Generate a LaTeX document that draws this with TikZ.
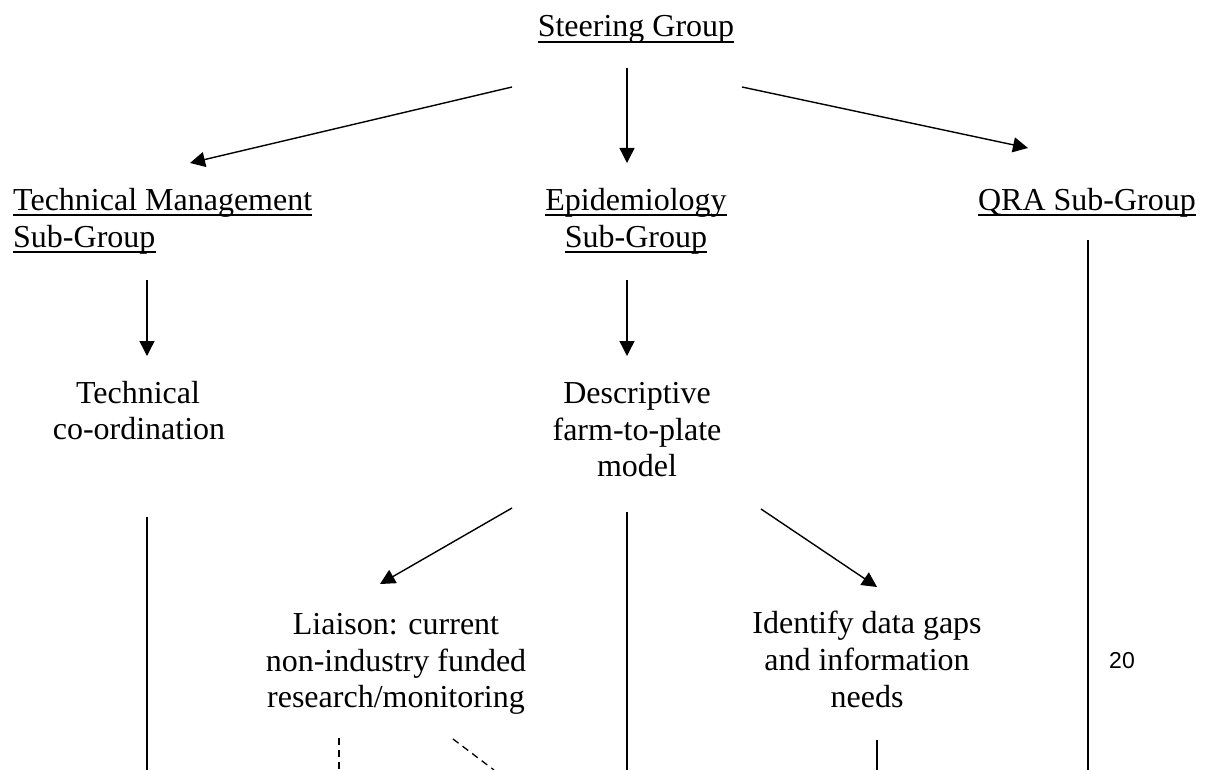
\documentclass[tikz,border=0pt]{standalone}
\usepackage{fontspec}
\setmainfont{Liberation Serif}
\newfontfamily\arialfont{Liberation Sans}
\usetikzlibrary{arrows.meta}
\newcommand\ulnode[1]{\draw[line width=1.3pt] ([yshift=-5pt]#1.base west) -- ([yshift=-5pt]#1.base east);}
\begin{document}
\begin{tikzpicture}[x=1pt,y=-1pt,
  lbl/.style={inner sep=0pt, anchor=base, font=\fontsize{32}{37}\selectfont},
  lblw/.style={lbl, anchor=base west},
  arr/.style={line width=1.4pt, -{Triangle[length=15pt,width=15pt]}},
  ln/.style={line width=1.4pt},
  dsh/.style={line width=1.3pt, dash pattern=on 7pt off 5pt}]
\useasboundingbox (0,0) rectangle (1206,770);

% titles
\node[lbl] (sg) at (636,37) {Steering Group};
\node[lblw] (tm1) at (13,210) {Technical Management};
\node[lblw] (tm2) at (13,247) {Sub-Group};
\node[lbl] (ep1) at (636,210) {Epidemiology};
\node[lbl] (ep2) at (636,247) {Sub-Group};
\node[lbl] (qra) at (1087,210) {QRA Sub-Group};
\ulnode{sg}\ulnode{tm1}\ulnode{tm2}\ulnode{ep1}\ulnode{ep2}\ulnode{qra}

% second level
\node[lbl] (tc1) at (138,403) {Technical};
\node[lbl] (tc2) at (139,439) {co-ordination};
\node[lbl] (de1) at (637,403) {Descriptive};
\node[lbl] (de2) at (637,440) {farm-to-plate};
\node[lbl] (de3) at (637,476) {model};

% third level
\node[lbl] (li1) at (396,634) {Liaison: current};
\node[lbl] (li2) at (396,671) {non-industry funded};
\node[lbl] (li3) at (396,707) {research/monitoring};
\node[lbl] (id1) at (867,633) {Identify data gaps};
\node[lbl] (id2) at (867,670) {and information};
\node[lbl] (id3) at (867,707) {needs};

\node[inner sep=0pt, anchor=base, font=\arialfont\fontsize{23}{26}\selectfont] (pg) at (1122,668) {20};

% connector end points
\coordinate (a1s) at (512,87);  \coordinate (a1e) at (190,163);
\coordinate (a2s) at (627,68);  \coordinate (a2e) at (627,163);
\coordinate (a3s) at (742,87);  \coordinate (a3e) at (1028,148);
\coordinate (a4s) at (147,280); \coordinate (a4e) at (147,356);
\coordinate (a5s) at (627,280); \coordinate (a5e) at (627,356);
\coordinate (a6s) at (512,508); \coordinate (a6e) at (380,584);
\coordinate (a7s) at (761,509); \coordinate (a7e) at (877,587);
\coordinate (l1s) at (147,517); \coordinate (l1e) at (147,770);
\coordinate (l2s) at (627,512); \coordinate (l2e) at (627,770);
\coordinate (l3s) at (1088,240); \coordinate (l3e) at (1088,770);
\coordinate (l4s) at (877,740); \coordinate (l4e) at (877,770);
\coordinate (d1s) at (339,738); \coordinate (d1e) at (339,770);
\coordinate (d2s) at (453,739); \coordinate (d2e) at (494,770);

\draw[arr] (a1s) -- (a1e);
\draw[arr] (a2s) -- (a2e);
\draw[arr] (a3s) -- (a3e);
\draw[arr] (a4s) -- (a4e);
\draw[arr] (a5s) -- (a5e);
\draw[arr] (a6s) -- (a6e);
\draw[arr] (a7s) -- (a7e);
\draw[ln] (l1s) -- (l1e);
\draw[ln] (l2s) -- (l2e);
\draw[ln] (l3s) -- (l3e);
\draw[ln] (l4s) -- (l4e);
\draw[dsh] (d1s) -- (d1e);
\draw[dsh] (d2s) -- (d2e);
\end{tikzpicture}
\end{document}
